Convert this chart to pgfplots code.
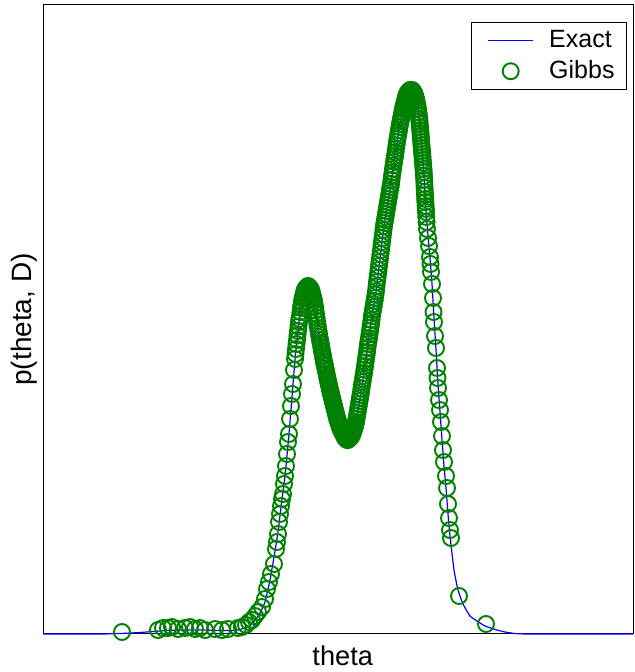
\documentclass[border=0pt]{standalone}
\usepackage{pgfplots}
\pgfplotsset{compat=1.18}
\usepackage{fontspec}
\setmainfont{Liberation Sans}
\definecolor{gibbsgreen}{RGB}{0,128,0}
\pgfplotsset{
  lineleg/.style={legend image code/.code={\path[draw=none,fill=none] (-4.5pt,0pt) -- (28.5pt,0pt);\draw[##1] (0pt,0pt) -- (22.5pt,0pt);}},
  markleg/.style={legend image code/.code={\path[draw=none,fill=none] (-4.5pt,0pt) -- (28.5pt,0pt);\draw[##1] plot coordinates {(11.25pt,0pt)};}},
}
\begin{document}
\begin{tikzpicture}
\begin{axis}[
  scale only axis,
  width=295pt, height=314.5pt,
  xmin=43, xmax=633, ymin=0, ymax=629,
  xtick=\empty, ytick=\empty,
  axis line style={black, line width=0.5pt},
  clip=false,
  font=\fontsize{12.5}{15}\selectfont,
  xlabel={theta},
  ylabel={p(theta, D)},
  xlabel style={at={(axis description cs:0.508,0)}, anchor=north, yshift=-2.5pt, font=\fontsize{13.6}{16}\selectfont},
  ylabel style={at={(axis description cs:0,0.5)}, anchor=south, yshift=-0.5pt, font=\fontsize{14}{16}\selectfont},
  legend style={draw=black, line width=0.5pt, fill=white, at={(1,1)}, anchor=north east,
    xshift=-3pt, yshift=-8.5pt, font=\fontsize{12.5}{15}\selectfont,
    inner xsep=4pt, inner ysep=2pt, row sep=1pt},
  legend cell align=left,
]
\addplot[blue, line width=0.6pt, smooth, tension=0.3, lineleg] coordinates {
(43,0)(100,0)(120,0.5)(140,1.5)(160,3)(180,4)(200,4)(220,3.5)(235,3.5)(245,6)(252,10)(260,21)(265,32)(270,54)(274,77)(278,102)(282,135)(285,158)(289,200)(293,250)(296,285)(299,312)(302,332)(305,344)(308,348)(311,344)(314,333)(318,306)(322,283)(326,263)(330,244)(334,228)(338,213)(342,202)(345,196)(347,194)(350,196)(353,202)(356,212)(360,236)(364,261)(368,290)(372,318)(376,343)(380,376)(383,400)(387,426)(390,444)(394,472)(398,498)(401,515)(404,529)(408,542)(412,544)(416,535)(419,518)(422,483)(424,458)(426,422)(428,398)(430,376)(432,350)(434,316)(436,284)(438,250)(440,222)(442,194)(444,168)(446,146)(448,120)(450,98)(454,64)(458,44)(463,30)(470,18)(477,13)(485,8)(497,4)(505,2)(515,0.5)(530,0)(633,0)
};
\addlegendentry{Exact}
\addplot[only marks, mark=o, mark size=4pt, gibbsgreen, mark options={line width=0.95pt}, markleg] coordinates {
(122,2)(158,4)(163,6)(168,6)(172,7)(178,5)(185,6)(190,7)(195,5)(200,6)(205,4)(215,5)(222,4)(228,5)(238,6)(242,7)(246,9)(249,12)(252,14)(255,18)(258,22)(262,27)(265,35)(267,45)(269,52)(271,60)
(274,70)(276,85)(277,92)(278,100)(279,112)(280,120)(281,128)(282,135)(283,140)(284,150)(285,158)(286,168)(287,180)(288,192)(289,200)(290,215)(291,228)(292,240)(293,250)(294,264)(295,275)(295.5,280)
(296,285)(296.5,290)(297,294)(297.5,298.5)(298,303)(298.5,307.5)(299,312)(299.5,315)(300,318)(300.5,322)(301,326)(301.5,329)
(302,332)(302.5,335)(303,337)(303.5,339)(304,341)(304.5,343)(305,344)(305.5,345)(306,346)(306.5,346.5)(307,347)(307.5,347.5)(308,348)(308.5,347.5)(309,347)(309.5,346.5)(310,346)(310.5,345)(311,344)(311.5,342.5)(312,341)(312.5,339)(313,337)(313.5,335)(314,333)(314.5,330)(315,327)(315.5,323.5)(316,320)(316.5,316.5)(317,313)(317.5,309.5)(318,306)(318.5,303)(319,300)(319.5,297)(320,294)(320.5,291.5)(321,289)(321.5,286)(322,283)(322.5,280.5)(323,278)(323.5,275)(324,272)(324.5,270)(325,268)(325.5,265.5)(326,263)(326.5,260.5)(327,258)(327.5,255.5)(328,253)(328.5,251)(329,249)(329.5,246.5)(330,244)(330.5,242)(331,240)(331.5,238)(332,236)(332.5,234)(333,232)(333.5,230)(334,228)(334.5,226)(335,224)(335.5,222)(336,220)(336.5,218)(337,216)(337.5,214.5)(338,213)(338.5,211.5)(339,210)(339.5,208.5)(340,207)(340.5,205.5)(341,204)(342,202)(343,200)(344,198)(345,196)(346,195)(347,194)(348,194)(349,195)(350,196)(351,197)(352,199)(352.5,200.5)(353,202)(353.5,203.5)(354,205)(354.5,206.5)(355,208)(355.5,210)(356,212)(356.5,215)(357,218)(357.5,221)(358,224)(358.5,227)(359,230)(359.5,233)(360,236)(360.5,239)(361,242)(361.5,245.5)(362,249)(362.5,252)(363,255)(363.5,258)(364,261)(364.5,264.5)(365,268)(365.5,271.5)(366,275)(366.5,278.5)(367,282)(367.5,286)(368,290)(368.5,293)(369,296)(369.5,299.5)(370,303)(370.5,306.5)(371,310)(371.5,314)(372,318)(372.5,321)(373,324)(373.5,327)(374,330)(374.5,333)(375,336)(375.5,339.5)(376,343)(376.5,347.5)(377,352)(377.5,356)(378,360)(378.5,364)(379,368)(379.5,372)(380,376)(380.5,380)(381,384)(381.5,388)(382,392)(382.5,396)(383,400)(383.5,404)(384,408)(384.5,411)(385,414)(385.5,417)(386,420)(386.5,423)(387,426)(387.5,429)(388,432)(388.5,435)(389,438)(389.5,441)(390,444)(390.5,447)(391,450)(391.5,454)(392,458)(392.5,461.5)(393,465)(393.5,468.5)(394,472)(394.5,475)(395,478)(395.5,481.5)(396,485)(396.5,488.5)(397,492)(397.5,495)(398,498)(398.5,501)(399,504)(399.5,507)(400,510)(400.5,512.5)(401,515)(401.5,517.5)(402,520)(402.5,522.5)(403,525)(403.5,527)(404,529)(404.5,531)(405,533)(405.5,535)(406,537)(406.5,538.5)(407,540)(408,542)(409,543)(410,544)(411,544)(412,544)
(413,543)(414,541)(414.5,540)(415,538.5)(415.5,537)(416,535)(416.5,533)(417,530.5)(417.5,528)(418,525)(418.5,521.5)(419,518)(419.25,515)(419.5,512.5)(419.75,510)(420,507)(420.25,504)(420.5,501)(420.75,498)(421,495)(421.25,492)(421.5,489)(421.75,486)(422,483)(422.25,480)(422.5,477)(422.75,474)(423,471)(423.25,468)(423.5,465)(423.75,462)(424,458)(424.2,454)(424.4,450)(424.6,446)(424.8,442)(425,439)(425.2,435)(425.4,432)(425.6,428)(425.8,425)(426,422)(426.3,417)(426.6,412)(427,405)
(428,396)(429,388)(430,377)(430.5,370)(431,362)(432,350)(433,336)(433.5,322)(434,312)(435,298)(436,286)(437,266)(437.5,256)(438,246)(439,234)(440,224)(441,212)(442,198)(443,184)(444,172)(446,158)(447,146)(448,130)(449,116)(450,104)(451,96)(459,38)(486,10)
};
\addlegendentry{Gibbs}
\end{axis}
\pgfresetboundingbox
\path[use as bounding box] ([xshift=-21.5pt,yshift=-19pt]current axis.south west) rectangle ([xshift=0.5pt,yshift=2.5pt]current axis.north east);
\end{tikzpicture}
\end{document}
